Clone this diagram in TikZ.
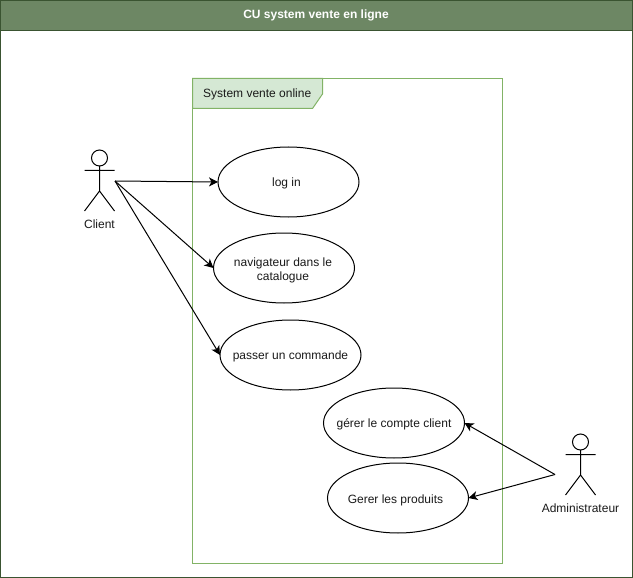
\documentclass[tikz,border=0pt]{standalone}
\usepackage{fontspec}
\setmainfont{Liberation Sans}
\usetikzlibrary{shapes.geometric,arrows.meta}
\definecolor{hdrfill}{HTML}{6D8764}
\definecolor{hdrline}{HTML}{3A5431}
\definecolor{sysline}{HTML}{82B366}
\definecolor{sysfill}{HTML}{D5E8D4}
\definecolor{txt}{HTML}{1A1A1A}
\newcommand\dnstrut{\rule{0pt}{11pt}}
\newcommand\dnstrutb{\rule{0pt}{13pt}}
\tikzset{
  usecase/.style={draw=black,fill=white,ellipse,inner xsep=-30pt,inner ysep=0pt,outer sep=0pt,minimum width=141pt,minimum height=70pt,align=center,font=\fontsize{12}{14.5}\selectfont,text=txt,line width=1pt},
  assoc/.style={draw=black,line width=1pt,-{Stealth[length=9pt,width=9pt,inset=2.5pt]}},
  stick/.style={draw=black,line width=1pt},
  lbl/.style={font=\fontsize{12}{14}\selectfont,text=txt,inner sep=0pt},
}
\begin{document}
\begin{tikzpicture}[x=1pt,y=-1pt]
\useasboundingbox (0,0) rectangle (633,578);
% frame
\draw[hdrline,line width=1pt,fill=white] (0.5,0.5) rectangle (632.5,577.5);
\draw[hdrline,line width=1pt,fill=hdrfill] (0.5,0.5) rectangle (632.5,30.5);
\node[font=\bfseries\fontsize{12}{14}\selectfont,text=white,inner sep=0pt] (title) at (316,15) {CU system vente en ligne};
% system boundary
\draw[sysline,line width=1pt] (192.5,78.5) rectangle (502.5,563.5);
\draw[sysline,line width=1pt,fill=sysfill] (192.5,78.5) -- (322.5,78.5) -- (322.5,94) -- (312.5,108.5) -- (192.5,108.5) -- cycle;
\node[lbl,anchor=west] (sys) at (203,94) {System vente online};
% use cases
\node[usecase] (login) at (288.5,182) {\dnstrut log in\hspace*{4pt}};
\node[usecase] (nav) at (284,268) {\dnstrutb navigateur dans le\hspace*{2pt}\\catalogue\hspace*{2pt}};
\node[usecase] (cmd) at (290.5,355) {\dnstrut passer un commande};
\node[usecase] (compte) at (394,423) {\dnstrut gérer le compte client};
\node[usecase] (prod) at (398,498) {\dnstrutb Gerer les produits\hspace*{5pt}};
% Client actor
\draw[stick] (99.5,158) circle (8);
\draw[stick] (99.5,166) -- (99.5,191) (84.5,170.5) -- (114.5,170.5) (84.5,211) -- (99.5,191) -- (114.5,211);
\node[lbl] (client) at (99.5,224.5) {Client};
\coordinate (clientport) at (115,181);
% Administrateur actor
\draw[stick] (580.5,442) circle (8);
\draw[stick] (580.5,450) -- (580.5,475) (565.5,454.5) -- (595.5,454.5) (565.5,495) -- (580.5,475) -- (595.5,495);
\node[lbl] (admin) at (580.5,508.5) {Administrateur};
\coordinate (adminport) at (555,474.5);
% connectors
\draw[assoc] (clientport) -- (login.west);
\draw[assoc] (clientport) -- (nav.west);
\draw[assoc] (clientport) -- (cmd.west);
\draw[assoc] (adminport) -- (compte.east);
\draw[assoc] (adminport) -- (prod.east);
\end{tikzpicture}
\end{document}
